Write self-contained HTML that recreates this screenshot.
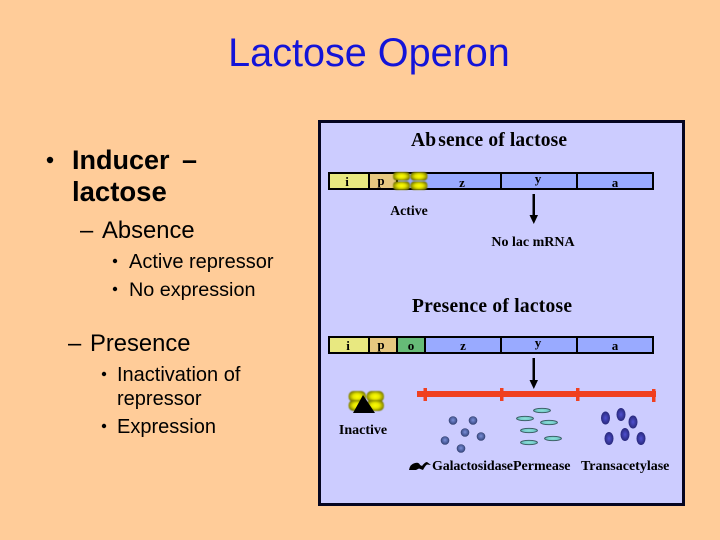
<!DOCTYPE html>
<html>
<head>
<meta charset="utf-8">
<style>
html,body{margin:0;padding:0;background:#ffcc99}
svg{display:block}
.s{font-family:"Liberation Sans",sans-serif;fill:#000}
.t{font-family:"Liberation Serif",serif;fill:#000}
</style>
</head>
<body>
<svg width="720" height="540" viewBox="0 0 720 540" xmlns="http://www.w3.org/2000/svg">
<defs>
<radialGradient id="yg" cx="50%" cy="50%" r="55%">
<stop offset="0%" stop-color="#ffff00"/>
<stop offset="45%" stop-color="#e4e400"/>
<stop offset="100%" stop-color="#6f6f00"/>
</radialGradient>
<filter id="soft" x="-10%" y="-10%" width="120%" height="120%"><feGaussianBlur stdDeviation="0.500"/></filter>
<radialGradient id="bg1" cx="50%" cy="45%" r="60%">
<stop offset="0%" stop-color="#7a8fd8"/>
<stop offset="100%" stop-color="#2f3f78"/>
</radialGradient>
<radialGradient id="bg2" cx="50%" cy="50%" r="60%">
<stop offset="0%" stop-color="#5050d0"/>
<stop offset="100%" stop-color="#20206a"/>
</radialGradient>
<radialGradient id="cg" cx="50%" cy="50%" r="55%">
<stop offset="0%" stop-color="#8fe0d8"/>
<stop offset="70%" stop-color="#70c8c8"/>
<stop offset="100%" stop-color="#2f5f60"/>
</radialGradient>
</defs>

<rect width="720" height="540" fill="#ffcc99"/>

<text x="369" y="66" font-family="Liberation Sans, sans-serif" font-size="39.600" text-anchor="middle" fill="#1414d8">Lactose Operon</text>

<circle cx="50" cy="160" r="3.200" fill="#000"/>
<text class="s" x="72" y="169" font-size="27" font-weight="bold">Inducer</text>
<text class="s" x="182" y="169" font-size="27" font-weight="bold">–</text>
<text class="s" x="72" y="201" font-size="27.500" font-weight="bold">lactose</text>

<text class="s" x="80" y="238" font-size="23.800">–</text>
<text class="s" x="102" y="238" font-size="23.800">Absence</text>

<circle cx="115" cy="261" r="2.200" fill="#000"/>
<text class="s" x="129" y="268" font-size="20">Active repressor</text>
<circle cx="115" cy="289" r="2.200" fill="#000"/>
<text class="s" x="129" y="296" font-size="19.800">No expression</text>

<text class="s" x="68" y="351" font-size="23.800">–</text>
<text class="s" x="90" y="351" font-size="23.800">Presence</text>

<circle cx="104" cy="374" r="2.200" fill="#000"/>
<text class="s" x="117" y="381" font-size="20">Inactivation of</text>
<text class="s" x="117" y="405" font-size="20">repressor</text>
<circle cx="104" cy="426" r="2.200" fill="#000"/>
<text class="s" x="117" y="433" font-size="20">Expression</text>

<rect x="319.500" y="121.500" width="364" height="383" fill="#ccccff" stroke="#050520" stroke-width="3"/>

<text class="t" x="411" y="146" font-size="19.500" font-weight="bold" textLength="156" lengthAdjust="spacing">Ab<tspan dx="2">sence of lactose</tspan></text>

<g stroke="#000" stroke-width="2">
<rect x="329" y="173" width="40" height="16" fill="#e8e880"/>
<rect x="369" y="173" width="28" height="16" fill="#e6c880"/>
<rect x="397" y="173" width="104" height="16" fill="#99aaff"/>
<rect x="501" y="173" width="76" height="16" fill="#99aaff"/>
<rect x="577" y="173" width="76" height="16" fill="#99aaff"/>
</g>
<text class="t" x="347" y="186" font-size="13" font-weight="bold" text-anchor="middle">i</text>
<text class="t" x="381" y="185" font-size="13" font-weight="bold" text-anchor="middle">p</text>
<text class="t" x="462" y="187" font-size="13" font-weight="bold" text-anchor="middle">z</text>
<text class="t" x="538" y="183" font-size="13" font-weight="bold" text-anchor="middle">y</text>
<text class="t" x="615" y="187" font-size="13" font-weight="bold" text-anchor="middle">a</text>

<g fill="url(#yg)" filter="url(#soft)">
<rect x="393" y="172" width="17" height="8.500" rx="3.500"/>
<rect x="393" y="181.500" width="17" height="8.500" rx="3.500"/>
<rect x="410.500" y="172" width="17" height="8.500" rx="3.500"/>
<rect x="410.500" y="181.500" width="17" height="8.500" rx="3.500"/>
</g>

<text class="t" x="409" y="215" font-size="13.800" font-weight="bold" text-anchor="middle">Active</text>

<rect x="532.500" y="194" width="2.500" height="22" fill="#000"/>
<polygon points="529.500,215 538,215 533.800,224" fill="#000"/>

<text class="t" x="533" y="246" font-size="14" font-weight="bold" text-anchor="middle">No lac mRNA</text>

<text class="t" x="412" y="312" font-size="19.500" font-weight="bold" textLength="160" lengthAdjust="spacing">Presence of lactose</text>

<g stroke="#000" stroke-width="2">
<rect x="329" y="337" width="40" height="16" fill="#e8e880"/>
<rect x="369" y="337" width="28" height="16" fill="#e6c880"/>
<rect x="397" y="337" width="28" height="16" fill="#66bb77"/>
<rect x="425" y="337" width="76" height="16" fill="#99aaff"/>
<rect x="501" y="337" width="76" height="16" fill="#99aaff"/>
<rect x="577" y="337" width="76" height="16" fill="#99aaff"/>
</g>
<text class="t" x="348" y="350" font-size="13" font-weight="bold" text-anchor="middle">i</text>
<text class="t" x="381" y="349" font-size="13" font-weight="bold" text-anchor="middle">p</text>
<text class="t" x="411" y="350" font-size="13" font-weight="bold" text-anchor="middle">o</text>
<text class="t" x="463" y="350" font-size="13" font-weight="bold" text-anchor="middle">z</text>
<text class="t" x="538" y="347" font-size="13" font-weight="bold" text-anchor="middle">y</text>
<text class="t" x="615" y="350" font-size="13" font-weight="bold" text-anchor="middle">a</text>

<rect x="532.500" y="358" width="2.500" height="23" fill="#000"/>
<polygon points="529.500,380 538,380 533.800,389" fill="#000"/>

<rect x="417" y="391" width="239" height="6" fill="#f04020"/>
<g fill="#f04020">
<rect x="423.500" y="388" width="3.500" height="13"/>
<rect x="500" y="388" width="3.500" height="13"/>
<rect x="576" y="388" width="3.500" height="13"/>
<rect x="652" y="389" width="3.500" height="13"/>
</g>

<g fill="url(#yg)" filter="url(#soft)">
<rect x="348.500" y="391" width="17.500" height="11" rx="5"/>
<rect x="348.500" y="400" width="17.500" height="11" rx="5"/>
<rect x="366.500" y="391" width="17.500" height="11" rx="5"/>
<rect x="366.500" y="400" width="17.500" height="11" rx="5"/>
</g>
<polygon points="363,395 375,413 353,413" fill="#000"/>

<text class="t" x="363" y="434" font-size="14" font-weight="bold" text-anchor="middle">Inactive</text>

<g fill="url(#bg1)" stroke="#33406f" stroke-width="0.600">
<circle cx="453" cy="420.500" r="4"/>
<circle cx="473" cy="420.500" r="4"/>
<circle cx="465" cy="432.500" r="4"/>
<circle cx="481" cy="436.500" r="4"/>
<circle cx="445" cy="440.500" r="4"/>
<circle cx="461" cy="448.500" r="4"/>
</g>

<g fill="url(#cg)" stroke="#3a5a60" stroke-width="0.800">
<ellipse cx="542" cy="410.500" rx="8.500" ry="2.200"/>
<ellipse cx="525" cy="418.500" rx="8.500" ry="2.200"/>
<ellipse cx="549" cy="422.500" rx="8.500" ry="2.200"/>
<ellipse cx="529" cy="430.500" rx="8.500" ry="2.200"/>
<ellipse cx="553" cy="438.500" rx="8.500" ry="2.200"/>
<ellipse cx="529" cy="442.500" rx="8.500" ry="2.200"/>
</g>

<g fill="url(#bg2)">
<ellipse cx="605.500" cy="418" rx="4.500" ry="6.500"/>
<ellipse cx="621" cy="414.500" rx="4.500" ry="6.500"/>
<ellipse cx="633" cy="422" rx="4.500" ry="6.500"/>
<ellipse cx="625" cy="434.500" rx="4.500" ry="6.500"/>
<ellipse cx="609" cy="438.500" rx="4.500" ry="6.500"/>
<ellipse cx="641" cy="438.500" rx="4.500" ry="6.500"/>
</g>

<path d="M409 470 Q410 464 415 463 Q419 462 420 465 L422 466 Q425 462 427 462 L431 465 L427 464.500 Q425 466 423 470 L419 468.500 L416 470 Z" fill="#000"/>

<text class="t" x="432" y="470" font-size="14" font-weight="bold" textLength="81" lengthAdjust="spacing">Galactosidase</text>
<text class="t" x="513" y="470" font-size="14" font-weight="bold">Permease</text>
<text class="t" x="581" y="470" font-size="14" font-weight="bold">Transacetylase</text>
</svg>
</body>
</html>
